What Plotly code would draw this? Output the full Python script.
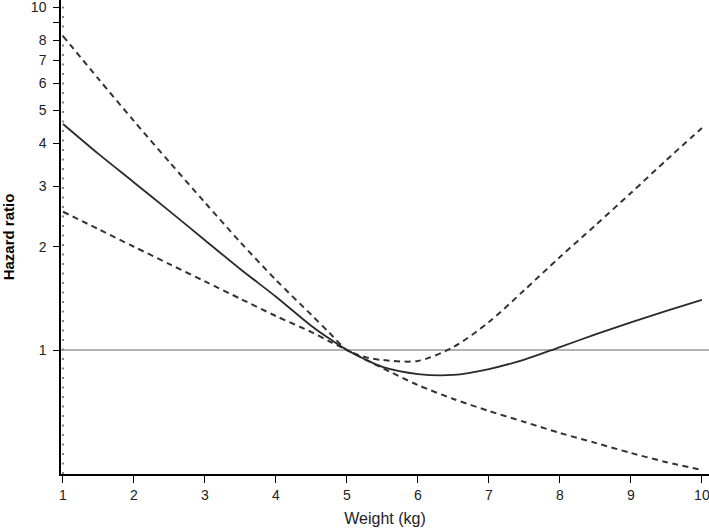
import plotly.graph_objects as go
import math

# ---- data ----
weight = [1, 1.5, 2, 2.5, 3, 3.5, 4, 4.5, 4.75, 5, 5.25, 5.5, 6, 6.5, 7, 7.5, 8, 8.5, 9, 9.5, 10]
hr = [4.56, 3.73, 3.08, 2.54, 2.09, 1.72, 1.43, 1.175, 1.08, 1.0, 0.94, 0.893, 0.851, 0.846, 0.88,
      0.938, 1.02, 1.11, 1.203, 1.30, 1.40]
upper = [8.23, 6.17, 4.65, 3.53, 2.69, 2.06, 1.60, 1.265, 1.124, 1.0, 0.954, 0.935, 0.929, 1.02, 1.207,
         1.496, 1.867, 2.31, 2.87, 3.58, 4.44]
lower = [2.53, 2.25, 2.00, 1.78, 1.585, 1.41, 1.256, 1.128, 1.06, 1.0, 0.94, 0.886, 0.79, 0.72, 0.664,
         0.617, 0.573, 0.536, 0.501, 0.471, 0.447]

x_ticks = [1, 2, 3, 4, 5, 6, 7, 8, 9, 10]
y_ticks = [1, 2, 3, 4, 5, 6, 7, 8, 9, 10]
y_ticklabels = ["1", "2", "3", "4", "5", "6", "7", "8", "", "10"]
ref_hr = 1
ref_weight_line = 1

FONT = "Arial, Liberation Sans, sans-serif"

fig = go.Figure()

dash_style = "6px,4.5px"
for band in (upper, lower):
    fig.add_trace(go.Scatter(x=weight, y=band, mode="lines",
                             line=dict(color="#333333", width=2, dash=dash_style, shape="spline", smoothing=0.8),
                             showlegend=False, hoverinfo="skip"))
fig.add_trace(go.Scatter(x=weight, y=hr, mode="lines",
                         line=dict(color="#2a2a2a", width=1.8, shape="spline", smoothing=0.8),
                         showlegend=False, hoverinfo="skip"))

# reference line HR = 1
fig.add_shape(type="line", xref="paper", x0=0, x1=1, yref="y", y0=ref_hr, y1=ref_hr,
              line=dict(color="#666666", width=1), layer="below")
# dotted vertical line at weight = 1
fig.add_shape(type="line", xref="x", x0=ref_weight_line, x1=ref_weight_line, yref="paper", y0=0, y1=1,
              line=dict(color="#888888", width=2, dash="2px,7.5px"), layer="below")

fig.update_layout(
    width=709, height=528,
    margin=dict(l=61, r=0, t=0, b=54),
    paper_bgcolor="white", plot_bgcolor="white",
    font=dict(family=FONT, color="#222222"),
    xaxis=dict(
        range=[0.972, 10.1], showgrid=False, zeroline=False,
        showline=True, linecolor="black", linewidth=1.5,
        tickmode="array", tickvals=x_ticks, ticks="outside", ticklen=7, tickcolor="black", tickwidth=1,
        tickfont=dict(size=14, color="#222222"), ticklabeloverflow="allow",
        title=dict(text="Weight (kg)", font=dict(size=16, color="#222222"), standoff=11),
        automargin=False,
    ),
    yaxis=dict(
        type="log", range=[math.log10(0.435), 1.0204], showgrid=False, zeroline=False,
        showline=True, linecolor="black", linewidth=1.5,
        tickmode="array", tickvals=y_ticks, ticktext=y_ticklabels,
        ticks="outside", ticklen=6, tickcolor="black", tickwidth=1,
        tickfont=dict(size=14, color="#222222"), ticklabeloverflow="allow", ticklabelstandoff=4,
        title=dict(text="<b>Hazard ratio</b>", font=dict(size=15, color="black"), standoff=20),
        automargin=False,
    ),
)

fig.write_html("out.html", config={"displayModeBar": False},
               post_script="document.body.style.margin='0';")
